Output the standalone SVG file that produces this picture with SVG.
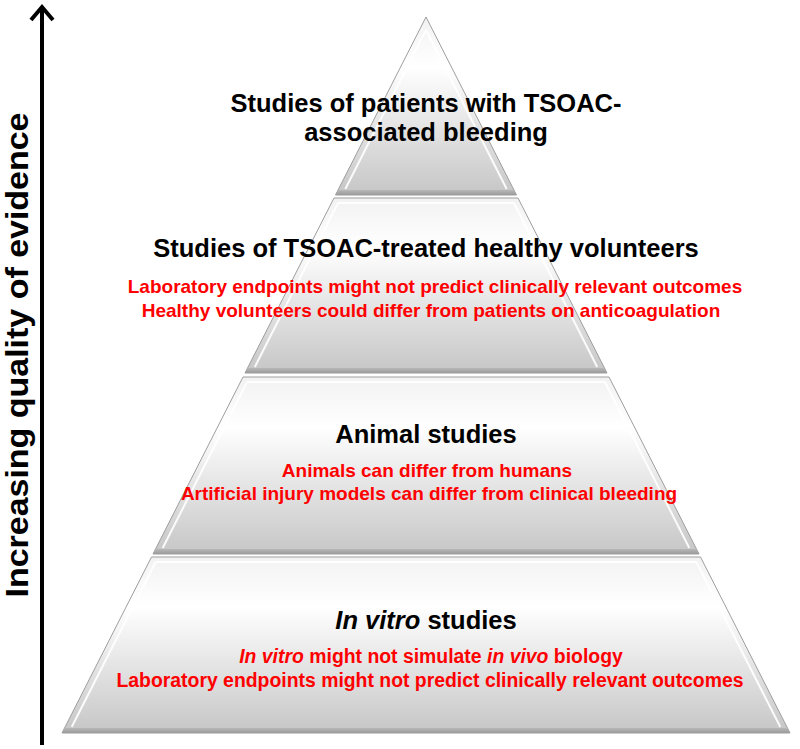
<svg xmlns="http://www.w3.org/2000/svg" width="800" height="749" viewBox="0 0 800 749">
<style>
.face{fill:url(#faceGrad);stroke:#9e9e9e;stroke-width:1}
.band{fill:url(#bandGrad)}
.hl{fill:none;stroke:#ffffff;stroke-width:2;stroke-opacity:0.9;stroke-linejoin:round}
.t{font-family:"Liberation Sans",Arial,sans-serif;font-weight:bold;font-size:25.5px;fill:#000;text-anchor:middle}
.r{font-family:"Liberation Sans",Arial,sans-serif;font-weight:bold;font-size:19px;fill:#ff0000;text-anchor:middle}
.r2{font-size:19.4px}
.ax{font-family:"Liberation Sans",Arial,sans-serif;font-weight:bold;font-size:32px;fill:#000;text-anchor:middle}
.arrow{fill:none;stroke:#000;stroke-width:4}
</style>
<defs>
<linearGradient id="faceGrad" x1="0" y1="0" x2="0" y2="1">
<stop offset="0" stop-color="#f2f2f2"/>
<stop offset="0.28" stop-color="#ffffff"/>
<stop offset="1" stop-color="#c6c6c6"/>
</linearGradient>
<linearGradient id="bandGrad" x1="0" y1="0" x2="0" y2="1">
<stop offset="0" stop-color="#b8b8b8"/>
<stop offset="1" stop-color="#9a9a9a"/>
</linearGradient>
<marker id="head" markerUnits="userSpaceOnUse" viewBox="-2 -14 20 28" markerWidth="20" markerHeight="28" refX="13" refY="0" orient="auto">
<path d="M0,-11 L13,0 L0,11" fill="none" stroke="#000" stroke-width="4" stroke-linejoin="miter"/>
</marker>
</defs>
<rect width="800" height="749" fill="#fff"/>

<g id="tier1">
<polygon class="face" points="426,17 516.5,195 335.5,195"/>
<polygon class="band" points="338,190 514,190 516.5,195 335.5,195"/>
<polyline class="hl" points="345.3,189 426,30 506.7,189"/>
<text class="t" x="426" y="112">Studies of patients with TSOAC-</text>
<text class="t" x="426" y="141">associated bleeding</text>
</g>

<g id="tier2">
<polygon class="face" points="334,198 518,198 607,373 245,373"/>
<polygon class="band" points="247.6,368 604.4,368 607,373 245,373"/>
<polyline class="hl" points="254.8,367 338.1,203 513.9,203 597.2,367"/>
<text class="t" x="426" y="257">Studies of TSOAC-treated healthy volunteers</text>
<text class="r" x="435" y="293">Laboratory endpoints might not predict clinically relevant outcomes</text>
<text class="r" x="431" y="317">Healthy volunteers could differ from patients on anticoagulation</text>
</g>

<g id="tier3">
<polygon class="face" points="243,377 609,377 699,554 153,554"/>
<polygon class="band" points="155.5,549 696.5,549 699,554 153,554"/>
<polyline class="hl" points="162.7,548 247.1,382 604.9,382 689.3,548"/>
<text class="t" x="426" y="443">Animal studies</text>
<text class="r" x="427" y="477">Animals can differ from humans</text>
<text class="r" x="429" y="500">Artificial injury models can differ from clinical bleeding</text>
</g>

<g id="tier4">
<polygon class="face" points="151.5,557 700.5,557 790,733 62,733"/>
<polygon class="band" points="64.5,728 787.5,728 790,733 62,733"/>
<polyline class="hl" points="71.7,727 155.6,562 696.4,562 780.3,727"/>
<text class="t" x="426" y="629"><tspan font-style="italic">In vitro</tspan> studies</text>
<text class="r r2" x="431" y="663"><tspan font-style="italic">In vitro</tspan> might not simulate <tspan font-style="italic">in vivo</tspan> biology</text>
<text class="r r2" x="430" y="687">Laboratory endpoints might not predict clinically relevant outcomes</text>
</g>

<g id="connectors">
<path class="arrow" d="M42,745 V7" marker-end="url(#head)"/>
</g>

<g id="axis-label">
<text class="ax" transform="translate(28,355) rotate(-90)" x="0" y="0" textLength="485" lengthAdjust="spacingAndGlyphs">Increasing quality of evidence</text>
</g>
</svg>
